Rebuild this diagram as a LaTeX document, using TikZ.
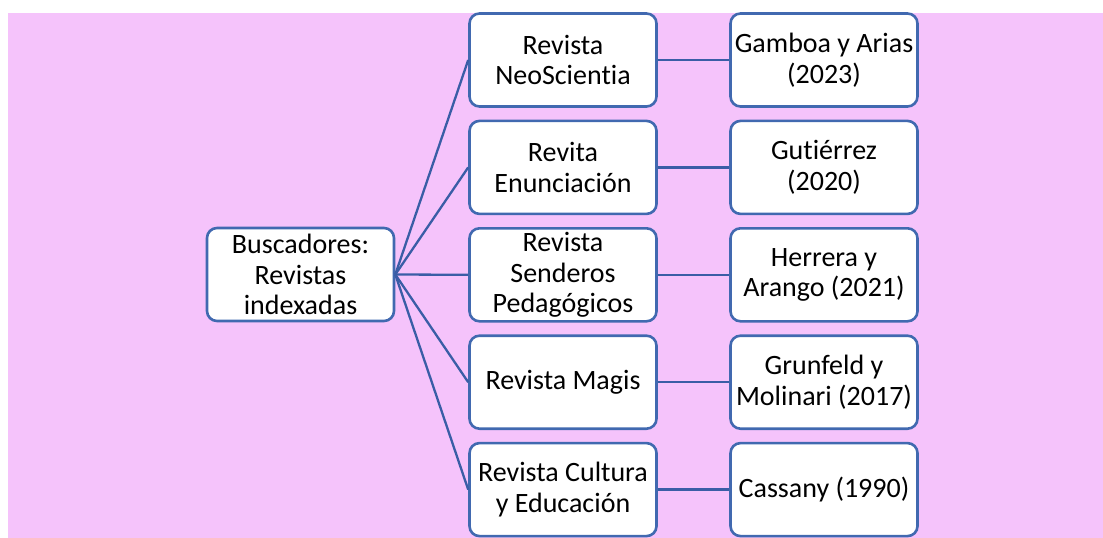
\documentclass[tikz,border=0pt]{standalone}
\usepackage{fontspec}
\setmainfont{Carlito}[RawFeature=-liga]
\definecolor{bgpink}{HTML}{F5C3FB}
\definecolor{boxblue}{HTML}{4169B0}
\definecolor{linkblue}{HTML}{3A5DA6}
\begin{document}
\begin{tikzpicture}[x=1pt,y=-1pt,
  card/.style={draw=boxblue, line width=2.6pt, fill=white, rounded corners=10pt,
    minimum width=187pt, minimum height=93pt, inner sep=0pt, align=center,
    font=\fontsize{28}{30.5}\selectfont},
  link/.style={draw=linkblue, line width=2.3pt}]
\useasboundingbox (0,0) rectangle (1103,538);
\fill[bgpink] (8,13) rectangle (1103,538);
\node[card] (root) at (300.5,274.5) {Buscadores:\\Revistas\\indexadas};
\node[card] (m1) at (563,60) {Revista\\NeoScientia};
\node[card] (m2) at (563,167.4) {Revita\\Enunciación};
\node[card] (m3) at (563,274.8) {Revista\\Senderos\\Pedagógicos};
\node[card] (m4) at (563,382.2) {Revista Magis};
\node[card] (m5) at (563,489.6) {Revista Cultura\\y Educación};
\node[card] (r1) at (824,60) {Gamboa y Arias\\(2023)};
\node[card] (r2) at (824,167.4) {Gutiérrez\\(2020)};
\node[card] (r3) at (824,274.8) {Herrera y\\Arango (2021)};
\node[card] (r4) at (824,382.2) {Grunfeld y\\Molinari (2017)};
\node[card] (r5) at (824,489.6) {Cassany (1990)};
\foreach \i in {1,...,5}{
  \draw[link] (root.east) -- (m\i.west);
  \draw[link] (m\i.east) -- (r\i.west);
}
\end{tikzpicture}
\end{document}
